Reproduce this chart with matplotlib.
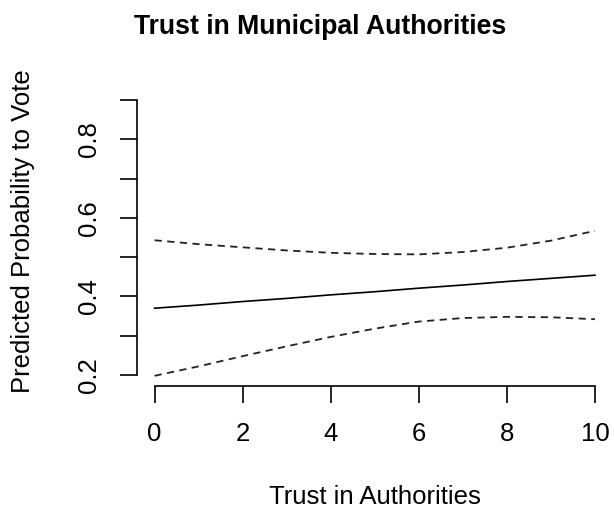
import numpy as np
import matplotlib
matplotlib.use("Agg")
import matplotlib.pyplot as plt

# valores
trust = [0, 1, 2, 3, 4, 5, 6, 7, 8, 9, 10]
prob = [0.370, 0.378, 0.387, 0.395, 0.404, 0.412, 0.421, 0.429, 0.438, 0.446, 0.454]
upper = [0.543, 0.533, 0.525, 0.517, 0.511, 0.508, 0.507, 0.513, 0.524, 0.542, 0.567]
lower = [0.198, 0.222, 0.248, 0.273, 0.297, 0.318, 0.336, 0.345, 0.348, 0.347, 0.342]

yticks = [0.2, 0.3, 0.4, 0.5, 0.6, 0.7, 0.8, 0.9]
ylabels = ["0.2", "", "0.4", "", "0.6", "", "0.8", ""]

plt.rcParams['font.family'] = ['Liberation Sans', 'DejaVu Sans']

W, H = 614, 513
fig = plt.figure(figsize=(W / 100, H / 100), dpi=100)
ax = fig.add_axes([137 / W, 1 - 386 / H, (612.6 - 137) / W, (386 - 89) / H])

ax.plot(trust, prob, color='black', lw=1.2)
ax.plot(trust, upper, color='#222222', lw=1.3, ls=(0, (4, 3)))
ax.plot(trust, lower, color='#222222', lw=1.3, ls=(0, (4, 3)))

ax.set_xlim(-0.4, 10.4)
ax.set_ylim(0.172, 0.928)

for s in ['top', 'right']:
    ax.spines[s].set_visible(False)
ax.spines['bottom'].set_bounds(0, 10)
ax.spines['left'].set_bounds(0.2, 0.9)
ax.spines['bottom'].set_linewidth(1.2)
ax.spines['left'].set_linewidth(1.2)

ax.set_xticks([0, 2, 4, 6, 8, 10])
ax.set_yticks(yticks)
ax.set_yticklabels(ylabels, rotation=90, va='center')
ax.tick_params(axis='both', length=12, width=1.2, labelsize=18.5)
ax.tick_params(axis='x', pad=14)
ax.tick_params(axis='y', pad=14)

fig.text(374.5 / W, 1 - 497 / H, "Trust in Authorities",
         ha='center', va='center', fontsize=18.5)
fig.text(23 / W, 1 - 231.5 / H, "Predicted Probability to Vote",
         ha='center', va='center', rotation=90, fontsize=18.5)
fig.text(320 / W, 1 - 27 / H, "Trust in Municipal Authorities",
         ha='center', va='center', fontsize=19.2, fontweight='bold')

fig.savefig("out.png", dpi=100)
